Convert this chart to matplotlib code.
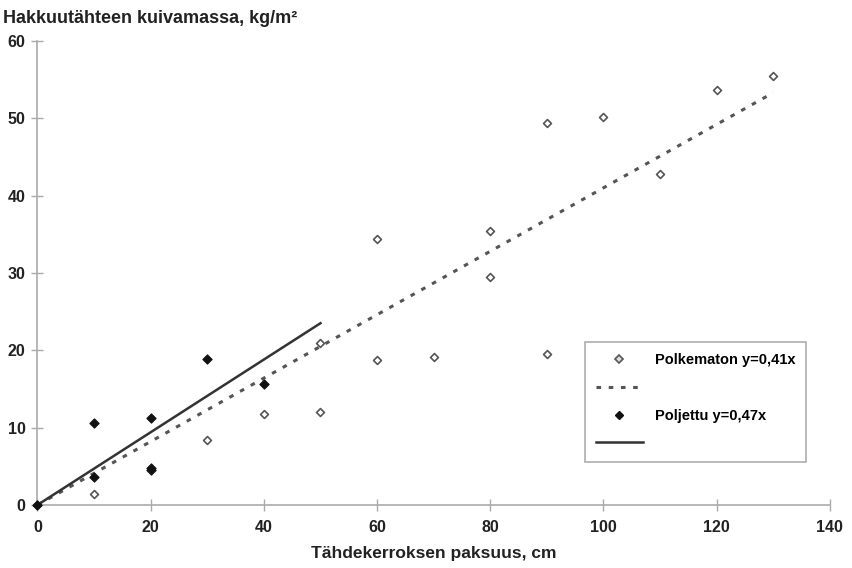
import matplotlib
matplotlib.use("Agg")
import matplotlib.pyplot as plt
import numpy as np
from matplotlib.lines import Line2D

plt.rcParams['font.family'] = ['Liberation Sans', 'DejaVu Sans']

# Polkematon (untrampled) data
polk_x = [0, 10, 30, 40, 50, 50, 60, 60, 70, 80, 80, 90, 90, 100, 110, 120, 130]
polk_y = [0, 1.4, 8.4, 11.8, 12.0, 21.0, 34.4, 18.7, 19.1, 35.4, 29.5, 49.4, 19.5, 50.2, 42.8, 53.6, 55.4]
# Poljettu (trampled) data
polj_x = [0, 10, 10, 20, 20, 20, 30, 40]
polj_y = [0, 10.6, 3.6, 11.2, 4.5, 4.8, 18.9, 15.7]

slope_polk = 0.41
slope_polj = 0.47
polk_xmax = 130
polj_xmax = 50

label_polk = "Polkematon y=0,41x"
label_polj = "Poljettu y=0,47x"
xlabel = "Tähdekerroksen paksuus, cm"
ylabel = "Hakkuutähteen kuivamassa, kg/m²"
xticks = [0, 20, 40, 60, 80, 100, 120, 140]
yticks = [0, 10, 20, 30, 40, 50, 60]

fig = plt.figure(figsize=(8.52, 5.68), dpi=100)
ax = fig.add_axes([0.044, 0.111, 0.93, 0.817])

ax.scatter(polk_x, polk_y, marker='D', s=16, facecolors='white', edgecolors='#555555',
           linewidths=1.2, zorder=3)
ax.scatter(polj_x, polj_y, marker='D', s=22, facecolors='#111111', edgecolors='#111111',
           linewidths=0.8, zorder=4)

lx1 = np.array([0, polk_xmax])
ax.plot(lx1, slope_polk * lx1, color='#555555', lw=2.2, dashes=(1.5, 2.5), zorder=2)
lx2 = np.array([0, polj_xmax])
ax.plot(lx2, slope_polj * lx2, color='#333333', lw=1.8, zorder=2)

ax.set_xlim(0, 140)
ax.set_ylim(0, 60)
ax.set_xticks(xticks)
ax.set_yticks(yticks)
for s in ['top', 'right']:
    ax.spines[s].set_visible(False)
for s in ['left', 'bottom']:
    ax.spines[s].set_color('#aaaaaa')
    ax.spines[s].set_linewidth(1.2)
ax.tick_params(direction='inout', length=9, color='#aaaaaa', width=1, labelsize=11.5,
               labelcolor='#222222')
ax.tick_params(axis='y', pad=4)
ax.tick_params(axis='x', pad=6)
for t in ax.get_xticklabels() + ax.get_yticklabels():
    t.set_fontweight('bold')
for c in ax.collections:
    c.set_clip_on(False)
for l in ax.lines:
    l.set_clip_on(False)

ax.set_xlabel(xlabel, fontsize=12.5, fontweight='bold', color='#222222', labelpad=8)
fig.text(0.004, 0.968, ylabel, fontsize=13, fontweight='bold', color='#222222',
         ha='left', va='center')

handles = [
    Line2D([], [], marker='D', ls='none', markersize=4, markerfacecolor='#dddddd',
           markeredgecolor='#555555', markeredgewidth=1.2),
    Line2D([], [], color='#555555', lw=2.2, dashes=(1.5, 2.5)),
    Line2D([], [], marker='D', ls='none', markersize=4.5, markerfacecolor='#111111',
           markeredgecolor='#111111'),
    Line2D([], [], color='#333333', lw=1.8),
]
labels = [label_polk, ' ', label_polj, ' ']
leg = ax.legend(handles, labels, loc='upper left', bbox_to_anchor=(0.691, 0.351, 0.279, 0.0),
                mode='expand', frameon=True, fancybox=False,
                prop={'weight': 'bold', 'size': 10.5}, handlelength=3.2, labelspacing=0.95,
                borderpad=0.75, handletextpad=0.85, borderaxespad=0)
leg.get_frame().set_edgecolor('#999999')
leg.get_frame().set_linewidth(1.2)

fig.savefig("out.png", dpi=100)
